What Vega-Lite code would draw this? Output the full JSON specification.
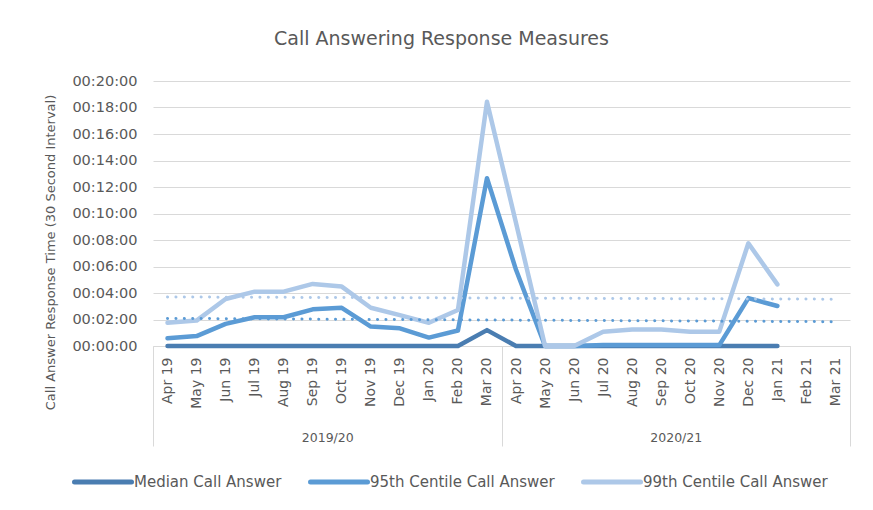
{
  "$schema": "https://vega.github.io/schema/vega-lite/v6.json",
  "width": 697,
  "height": 265,
  "autosize": {"type": "none"},
  "padding": {"left": 153, "top": 81, "right": 23, "bottom": 164},
  "background": "white",
  "title": {
    "text": "Call Answering Response Measures",
    "fontSize": 19,
    "font": "DejaVu Sans",
    "fontWeight": "normal",
    "color": "#595959",
    "anchor": "middle",
    "dx": -60,
    "offset": 24
  },
  "config": {
    "font": "DejaVu Sans",
    "view": {"stroke": null},
    "axisY": {
      "values": [0, 120, 240, 360, 480, 600, 720, 840, 960, 1080, 1200],
      "labelOverlap": false,
      "labelFlush": false
    }
  },
  "resolve": {
    "scale": {"x": "independent", "color": "independent"},
    "axis": {"x": "independent"}
  },
  "layer": [
    {
      "data": {
        "values": [
          {"month": "Apr 19", "series": "Median Call Answer", "sec": 0},
          {"month": "May 19", "series": "Median Call Answer", "sec": 0},
          {"month": "Jun 19", "series": "Median Call Answer", "sec": 0},
          {"month": "Jul 19", "series": "Median Call Answer", "sec": 0},
          {"month": "Aug 19", "series": "Median Call Answer", "sec": 0},
          {"month": "Sep 19", "series": "Median Call Answer", "sec": 0},
          {"month": "Oct 19", "series": "Median Call Answer", "sec": 0},
          {"month": "Nov 19", "series": "Median Call Answer", "sec": 0},
          {"month": "Dec 19", "series": "Median Call Answer", "sec": 0},
          {"month": "Jan 20", "series": "Median Call Answer", "sec": 0},
          {"month": "Feb 20", "series": "Median Call Answer", "sec": 0},
          {"month": "Mar 20", "series": "Median Call Answer", "sec": 72},
          {"month": "Apr 20", "series": "Median Call Answer", "sec": 0},
          {"month": "May 20", "series": "Median Call Answer", "sec": 0},
          {"month": "Jun 20", "series": "Median Call Answer", "sec": 0},
          {"month": "Jul 20", "series": "Median Call Answer", "sec": 0},
          {"month": "Aug 20", "series": "Median Call Answer", "sec": 0},
          {"month": "Sep 20", "series": "Median Call Answer", "sec": 0},
          {"month": "Oct 20", "series": "Median Call Answer", "sec": 0},
          {"month": "Nov 20", "series": "Median Call Answer", "sec": 0},
          {"month": "Dec 20", "series": "Median Call Answer", "sec": 0},
          {"month": "Jan 21", "series": "Median Call Answer", "sec": 0},
          {"month": "Apr 19", "series": "95th Centile Call Answer", "sec": 35},
          {"month": "May 19", "series": "95th Centile Call Answer", "sec": 45},
          {"month": "Jun 19", "series": "95th Centile Call Answer", "sec": 100},
          {"month": "Jul 19", "series": "95th Centile Call Answer", "sec": 130},
          {"month": "Aug 19", "series": "95th Centile Call Answer", "sec": 130},
          {"month": "Sep 19", "series": "95th Centile Call Answer", "sec": 166},
          {"month": "Oct 19", "series": "95th Centile Call Answer", "sec": 173},
          {"month": "Nov 19", "series": "95th Centile Call Answer", "sec": 88},
          {"month": "Dec 19", "series": "95th Centile Call Answer", "sec": 80},
          {"month": "Jan 20", "series": "95th Centile Call Answer", "sec": 38},
          {"month": "Feb 20", "series": "95th Centile Call Answer", "sec": 70},
          {"month": "Mar 20", "series": "95th Centile Call Answer", "sec": 760},
          {"month": "Apr 20", "series": "95th Centile Call Answer", "sec": 345},
          {"month": "May 20", "series": "95th Centile Call Answer", "sec": 0},
          {"month": "Jun 20", "series": "95th Centile Call Answer", "sec": 0},
          {"month": "Jul 20", "series": "95th Centile Call Answer", "sec": 4},
          {"month": "Aug 20", "series": "95th Centile Call Answer", "sec": 4},
          {"month": "Sep 20", "series": "95th Centile Call Answer", "sec": 4},
          {"month": "Oct 20", "series": "95th Centile Call Answer", "sec": 4},
          {"month": "Nov 20", "series": "95th Centile Call Answer", "sec": 4},
          {"month": "Dec 20", "series": "95th Centile Call Answer", "sec": 217},
          {"month": "Jan 21", "series": "95th Centile Call Answer", "sec": 181},
          {"month": "Apr 19", "series": "99th Centile Call Answer", "sec": 105},
          {"month": "May 19", "series": "99th Centile Call Answer", "sec": 115},
          {"month": "Jun 19", "series": "99th Centile Call Answer", "sec": 213},
          {"month": "Jul 19", "series": "99th Centile Call Answer", "sec": 246},
          {"month": "Aug 19", "series": "99th Centile Call Answer", "sec": 246},
          {"month": "Sep 19", "series": "99th Centile Call Answer", "sec": 281},
          {"month": "Oct 19", "series": "99th Centile Call Answer", "sec": 269},
          {"month": "Nov 19", "series": "99th Centile Call Answer", "sec": 173},
          {"month": "Dec 19", "series": "99th Centile Call Answer", "sec": 140},
          {"month": "Jan 20", "series": "99th Centile Call Answer", "sec": 105},
          {"month": "Feb 20", "series": "99th Centile Call Answer", "sec": 163},
          {"month": "Mar 20", "series": "99th Centile Call Answer", "sec": 1106},
          {"month": "Apr 20", "series": "99th Centile Call Answer", "sec": 557},
          {"month": "May 20", "series": "99th Centile Call Answer", "sec": 0},
          {"month": "Jun 20", "series": "99th Centile Call Answer", "sec": 0},
          {"month": "Jul 20", "series": "99th Centile Call Answer", "sec": 65},
          {"month": "Aug 20", "series": "99th Centile Call Answer", "sec": 75},
          {"month": "Sep 20", "series": "99th Centile Call Answer", "sec": 75},
          {"month": "Oct 20", "series": "99th Centile Call Answer", "sec": 65},
          {"month": "Nov 20", "series": "99th Centile Call Answer", "sec": 65},
          {"month": "Dec 20", "series": "99th Centile Call Answer", "sec": 465},
          {"month": "Jan 21", "series": "99th Centile Call Answer", "sec": 279}
        ]
      },
      "mark": {"type": "line", "strokeWidth": 4.5, "strokeCap": "round", "strokeJoin": "round"},
      "encoding": {
        "x": {
          "field": "month",
          "type": "ordinal",
          "sort": null,
          "scale": {
            "type": "point",
            "padding": 0.5,
            "domain": ["Apr 19", "May 19", "Jun 19", "Jul 19", "Aug 19", "Sep 19", "Oct 19", "Nov 19", "Dec 19", "Jan 20", "Feb 20", "Mar 20", "Apr 20", "May 20", "Jun 20", "Jul 20", "Aug 20", "Sep 20", "Oct 20", "Nov 20", "Dec 20", "Jan 21", "Feb 21", "Mar 21"]
          },
          "axis": {
            "orient": "bottom",
            "title": null,
            "labelAngle": -90,
            "labelAlign": "right",
            "labelBaseline": "middle",
            "labelFontSize": 14,
            "labelColor": "#595959",
            "labelPadding": 11,
            "labelOverlap": false,
            "ticks": false,
            "tickSize": 0,
            "domain": true,
            "domainColor": "#d9d9d9",
            "domainWidth": 1,
            "grid": false
          }
        },
        "y": {
          "field": "sec",
          "type": "quantitative",
          "scale": {"domain": [0, 1200], "nice": false, "zero": true},
          "axis": {
            "title": "Call Answer Response Time (30 Second Interval)",
            "values": [0, 120, 240, 360, 480, 600, 720, 840, 960, 1080, 1200],
            "labelExpr": "'00:' + (datum.value < 600 ? '0' : '') + floor(datum.value / 60) + ':00'",
            "domain": false,
            "ticks": false,
            "tickSize": 0,
            "labelPadding": 16,
            "labelFontSize": 14.5,
            "labelColor": "#595959",
            "labelFlush": false,
            "labelOverlap": false,
            "grid": true,
            "gridColor": "#d9d9d9",
            "gridWidth": 1,
            "titleFontSize": 13,
            "titleFontWeight": "normal",
            "titleColor": "#595959",
            "titleAngle": -90,
            "titleX": -103,
            "titleY": 171,
            "titleAlign": "center",
            "titleBaseline": "middle"
          }
        },
        "color": {
          "field": "series",
          "type": "nominal",
          "scale": {
            "domain": ["Median Call Answer", "95th Centile Call Answer", "99th Centile Call Answer"],
            "range": ["#4a7db1", "#5b9bd5", "#adc8e8"]
          },
          "legend": {
            "orient": "none",
            "legendX": -81,
            "legendY": 370,
            "direction": "horizontal",
            "title": null,
            "symbolType": "stroke",
            "symbolSize": 3249,
            "symbolStrokeWidth": 5,
            "labelFontSize": 15,
            "labelColor": "#595959",
            "labelOffset": 0,
            "labelLimit": 400,
            "columnPadding": 18,
            "encode": {"symbols": {"update": {"strokeCap": {"value": "round"}}}}
          }
        }
      }
    },
    {
      "data": {
        "values": [
          {"month": "Apr 19", "trend": "95th", "sec": 125},
          {"month": "Mar 21", "trend": "95th", "sec": 110},
          {"month": "Apr 19", "trend": "99th", "sec": 222},
          {"month": "Mar 21", "trend": "99th", "sec": 212}
        ]
      },
      "mark": {"type": "line", "strokeWidth": 3, "strokeCap": "round", "strokeDash": [0.1, 8.3]},
      "encoding": {
        "x": {
          "field": "month",
          "type": "ordinal",
          "sort": null,
          "scale": {
            "type": "point",
            "padding": 0.5,
            "domain": ["Apr 19", "May 19", "Jun 19", "Jul 19", "Aug 19", "Sep 19", "Oct 19", "Nov 19", "Dec 19", "Jan 20", "Feb 20", "Mar 20", "Apr 20", "May 20", "Jun 20", "Jul 20", "Aug 20", "Sep 20", "Oct 20", "Nov 20", "Dec 20", "Jan 21", "Feb 21", "Mar 21"]
          },
          "axis": null
        },
        "y": {
          "field": "sec",
          "type": "quantitative",
          "scale": {"domain": [0, 1200], "nice": false, "zero": true},
          "axis": {
            "title": "Call Answer Response Time (30 Second Interval)",
            "values": [0, 120, 240, 360, 480, 600, 720, 840, 960, 1080, 1200],
            "labelExpr": "'00:' + (datum.value < 600 ? '0' : '') + floor(datum.value / 60) + ':00'",
            "domain": false,
            "ticks": false,
            "tickSize": 0,
            "labelPadding": 16,
            "labelFontSize": 14.5,
            "labelColor": "#595959",
            "labelFlush": false,
            "labelOverlap": false,
            "grid": true,
            "gridColor": "#d9d9d9",
            "gridWidth": 1,
            "titleFontSize": 13,
            "titleFontWeight": "normal",
            "titleColor": "#595959",
            "titleAngle": -90,
            "titleX": -103,
            "titleY": 171,
            "titleAlign": "center",
            "titleBaseline": "middle"
          }
        },
        "color": {
          "field": "trend",
          "type": "nominal",
          "scale": {"domain": ["95th", "99th"], "range": ["#5b9bd5", "#adc8e8"]},
          "legend": null
        }
      }
    },
    {
      "data": {"values": [{"fy": "2019/20"}, {"fy": "2020/21"}]},
      "mark": {"type": "point", "opacity": 0},
      "encoding": {
        "x": {
          "field": "fy",
          "type": "nominal",
          "scale": {"type": "band", "paddingInner": 0, "paddingOuter": 0},
          "axis": {
            "orient": "bottom",
            "title": null,
            "domain": false,
            "ticks": true,
            "tickBand": "extent",
            "tickSize": 100,
            "tickColor": "#d9d9d9",
            "tickWidth": 1,
            "labelAngle": 0,
            "labelAlign": "center",
            "labelBaseline": "middle",
            "labelPadding": -9,
            "labelFontSize": 12.5,
            "labelColor": "#595959",
            "grid": false
          }
        }
      }
    }
  ]
}
